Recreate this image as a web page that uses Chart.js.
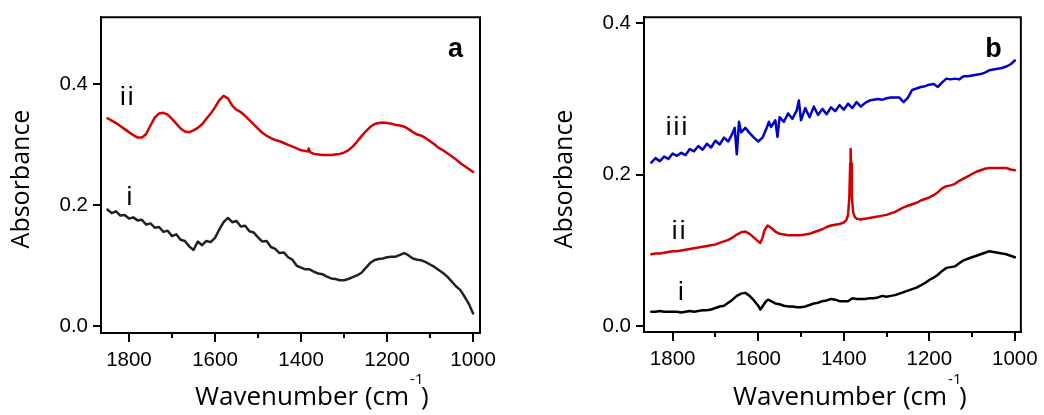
<!DOCTYPE html>
<html>
<head>
<meta charset="utf-8">
<script src="https://cdn.jsdelivr.net/npm/chart.js@4.4.1/dist/chart.umd.min.js"></script>
<style>
  html, body { margin: 0; padding: 0; background: #fff; }
  #wrap { position: relative; width: 1044px; height: 415px; }
  .panel { position: absolute; top: 0; height: 415px; }
  #pa { left: 0; width: 520px; }
  #pb { left: 520px; width: 524px; }
</style>
</head>
<body>
<div id="wrap">
  <div class="panel" id="pa"><canvas id="ca" width="520" height="415"></canvas></div>
  <div class="panel" id="pb"><canvas id="cb" width="524" height="415"></canvas></div>
</div>
<script>
// ---- data ----
const xTicks = [1800, 1600, 1400, 1200, 1000];
const xMinor = [1700, 1500, 1300, 1100];
const yTicks = [0.0, 0.2, 0.4];

// panel a, curve i (black)
const waveA_i = [1850,1840,1830,1820,1810,1800,1790,1780,1770,1760,
  1750,1740,1730,1720,1710,1700,1690,1680,1670,1660,
  1650,1640,1630,1620,1610,1600,1590,1580,1570,1560,
  1550,1540,1530,1520,1510,1500,1490,1480,1470,1460,
  1450,1440,1430,1420,1410,1400,1390,1380,1370,1360,
  1350,1340,1330,1320,1310,1300,1290,1280,1270,1260,
  1250,1240,1230,1220,1210,1200,1190,1180,1170,1160,
  1150,1140,1130,1120,1110,1100,1090,1080,1070,1060,
  1050,1040,1030,1020,1010,1000];
const absA_i = [0.193,0.187,0.190,0.183,0.184,0.178,0.180,0.175,0.176,0.168,
  0.170,0.163,0.164,0.156,0.158,0.149,0.152,0.143,0.141,0.132,
  0.126,0.140,0.134,0.141,0.139,0.146,0.160,0.172,0.179,0.172,
  0.174,0.165,0.166,0.157,0.155,0.147,0.140,0.141,0.131,0.128,
  0.121,0.122,0.114,0.110,0.100,0.097,0.094,0.094,0.090,0.087,
  0.086,0.082,0.079,0.078,0.076,0.076,0.078,0.081,0.084,0.088,
  0.096,0.104,0.109,0.111,0.112,0.114,0.115,0.115,0.118,0.121,
  0.117,0.112,0.110,0.109,0.106,0.102,0.098,0.093,0.088,0.082,
  0.074,0.066,0.060,0.049,0.037,0.021];

// panel a, curve ii (red)
const waveA_ii = [1850,1840,1830,1820,1810,1800,1790,1780,1770,1760,
  1750,1740,1730,1720,1710,1700,1690,1680,1670,1660,
  1650,1640,1630,1620,1610,1600,1590,1580,1570,1560,
  1550,1540,1530,1520,1510,1500,1490,1480,1470,1460,
  1450,1440,1430,1420,1410,1400,1390,1385,1382,1379,
  1370,1360,1350,1340,1330,1320,1310,1300,
  1290,1280,1270,1260,1250,1240,1230,1220,1210,1200,
  1190,1180,1170,1160,1150,1140,1130,1120,1110,1100,
  1090,1080,1070,1060,1050,1040,1030,1020,1010,1000];
const absA_ii = [0.344,0.340,0.336,0.331,0.326,0.321,0.316,0.312,0.312,0.318,
  0.332,0.345,0.352,0.353,0.350,0.343,0.335,0.327,0.322,0.321,
  0.324,0.328,0.334,0.343,0.352,0.362,0.374,0.381,0.377,0.365,
  0.358,0.354,0.348,0.341,0.334,0.327,0.320,0.315,0.311,0.308,
  0.306,0.303,0.300,0.297,0.294,0.291,0.290,0.289,0.294,0.288,
  0.285,0.284,0.283,0.283,0.283,0.284,0.285,0.287,
  0.291,0.297,0.305,0.314,0.322,0.329,0.334,0.336,0.337,0.336,
  0.335,0.333,0.332,0.330,0.326,0.321,0.317,0.315,0.311,0.306,
  0.301,0.295,0.291,0.286,0.281,0.276,0.270,0.265,0.260,0.255];

// panel b, curve i (black)
const waveB_i = [1850,1840,1830,1820,1810,1800,1790,1780,1770,1760,
  1750,1740,1730,1720,1710,1700,1690,1680,1670,1660,
  1650,1640,1630,1620,1610,1600,1595,1590,1583,1577,
  1570,1560,1550,1540,1530,1520,1510,1500,1490,1480,
  1470,1460,1450,1440,1430,1420,1410,1400,1390,1380,
  1370,1360,1350,1340,1330,1320,1310,1300,1290,1280,
  1270,1260,1250,1240,1230,1220,1210,1200,1190,1180,
  1170,1160,1150,1140,1130,1120,1110,1100,1090,1080,
  1070,1060,1050,1040,1030,1020,1010,1000];
const absB_i = [0.019,0.019,0.020,0.019,0.019,0.019,0.019,0.018,0.019,0.020,
  0.019,0.020,0.021,0.021,0.022,0.024,0.026,0.027,0.031,0.035,
  0.040,0.043,0.044,0.040,0.034,0.027,0.022,0.026,0.032,0.035,
  0.033,0.030,0.029,0.027,0.026,0.026,0.025,0.025,0.026,0.028,
  0.030,0.031,0.033,0.034,0.036,0.035,0.033,0.033,0.033,0.037,
  0.036,0.036,0.036,0.037,0.037,0.038,0.040,0.039,0.040,0.041,
  0.043,0.045,0.047,0.049,0.051,0.054,0.057,0.061,0.064,0.068,
  0.073,0.077,0.078,0.079,0.083,0.087,0.089,0.091,0.093,0.095,
  0.097,0.099,0.098,0.097,0.096,0.095,0.093,0.091];

// panel b, curve ii (red)
const waveB_ii = [1850,1840,1830,1820,1810,1800,1790,1780,1770,1760,
  1750,1740,1730,1720,1710,1700,1690,1680,1670,1660,
  1650,1640,1630,1620,1610,1600,1595,1590,1585,1578,
  1570,1560,1550,1540,1530,1520,1510,1500,1490,1480,
  1470,1460,1450,1440,1430,1420,1410,1400,1394,1390,
  1387,1385,1384,1383,1381,1378,1374,1370,1360,1350,
  1340,1330,1320,1310,1300,1290,1280,1270,1260,1250,
  1240,1230,1220,1210,1200,1190,1180,1170,1160,1150,
  1140,1130,1120,1110,1100,1090,1080,1070,1060,1050,
  1040,1030,1020,1010,1000];
const absB_ii = [0.095,0.096,0.096,0.097,0.098,0.099,0.099,0.100,0.101,0.102,
  0.103,0.104,0.105,0.106,0.107,0.108,0.110,0.112,0.114,0.117,
  0.121,0.124,0.125,0.122,0.117,0.112,0.110,0.117,0.127,0.133,
  0.130,0.125,0.122,0.121,0.120,0.120,0.120,0.120,0.121,0.122,
  0.124,0.126,0.128,0.131,0.133,0.134,0.135,0.137,0.140,0.147,
  0.170,0.215,0.234,0.215,0.170,0.150,0.144,0.142,0.141,0.142,
  0.143,0.144,0.145,0.146,0.147,0.149,0.151,0.154,0.157,0.159,
  0.161,0.163,0.166,0.168,0.170,0.173,0.177,0.182,0.185,0.186,
  0.188,0.192,0.195,0.198,0.201,0.204,0.206,0.208,0.209,0.209,
  0.209,0.209,0.209,0.207,0.206];

// panel b, curve iii (blue)
const waveB_iii = [1850,1840,1830,1820,1810,1800,1790,1780,1770,1760,
  1750,1740,1730,1720,1710,1700,1690,1680,1670,1660,
  1655,1650,1645,1640,1630,1620,1610,1600,1590,1580,
  1575,1570,1560,1555,1550,1540,1530,1520,1510,1505,
  1500,1490,1480,1470,1460,1450,1440,1430,1420,1410,
  1400,1390,1380,1370,1360,1350,1340,1330,1320,1310,
  1300,1290,1280,1270,1260,1250,1240,1230,1220,1210,
  1200,1190,1180,1170,1160,1150,1140,1130,1120,1110,
  1100,1090,1080,1070,1060,1050,1040,1030,1020,1010,1000];
const absB_iii = [0.216,0.222,0.218,0.224,0.221,0.228,0.225,0.229,0.226,0.234,
  0.231,0.238,0.233,0.241,0.236,0.245,0.240,0.249,0.244,0.255,
  0.262,0.227,0.270,0.256,0.262,0.255,0.249,0.244,0.249,0.262,
  0.270,0.263,0.272,0.250,0.276,0.270,0.281,0.274,0.285,0.298,
  0.272,0.288,0.276,0.290,0.279,0.287,0.280,0.289,0.284,0.292,
  0.286,0.294,0.288,0.296,0.290,0.295,0.298,0.299,0.300,0.299,
  0.301,0.302,0.302,0.302,0.296,0.302,0.312,0.314,0.316,0.317,
  0.319,0.320,0.316,0.322,0.327,0.326,0.327,0.326,0.330,0.330,
  0.331,0.332,0.333,0.335,0.338,0.339,0.340,0.341,0.343,0.346,0.351];

const RED = '#d20000';
const BLUE = '#0000cc';

const toPoints = (w, a) => w.map((v, i) => ({ x: v, y: a[i] }));

// frame, minor ticks, curve labels and axis titles
const decorations = {
  id: 'decorations',
  afterDraw(chart, args, o) {
    const { ctx, chartArea: a, scales: { x, y } } = chart;
    ctx.save();
    ctx.strokeStyle = '#000';
    ctx.lineWidth = 2;
    ctx.beginPath();
    ctx.moveTo(a.left - 1, a.top);
    ctx.lineTo(a.right, a.top);
    ctx.lineTo(a.right, a.bottom + 1);
    xMinor.forEach(v => {
      const px = Math.round(x.getPixelForValue(v));
      ctx.moveTo(px, a.bottom);
      ctx.lineTo(px, a.bottom + 5);
    });
    ctx.stroke();

    ctx.fillStyle = '#000';
    ctx.textAlign = 'center';
    ctx.textBaseline = 'alphabetic';
    o.labels.forEach(l => {
      ctx.font = l.bold ? 'bold 27px "Liberation Sans"' : '26px "Liberation Sans"';
      ctx.letterSpacing = l.bold ? '0px' : '2px';
      ctx.fillText(l.text, x.getPixelForValue(l.x) + (l.bold ? 0 : 1), y.getPixelForValue(l.y));
    });
    ctx.letterSpacing = '0px';

    // y title
    ctx.font = '25px "Open Sans"';
    ctx.save();
    ctx.translate(o.yTitle[0], o.yTitle[1]);
    ctx.rotate(-Math.PI / 2);
    ctx.textBaseline = 'middle';
    ctx.fillText('Absorbance', 0, 0);
    ctx.restore();

    // x title with superscript
    ctx.textAlign = 'left';
    ctx.font = '26px "Open Sans"';
    const main = 'Wavenumber (cm';
    const w = ctx.measureText(main).width;
    ctx.fillText(main, o.xTitle[0], o.xTitle[1]);
    ctx.fillText(')', o.xTitle[0] + w + 12, o.xTitle[1]);
    ctx.font = '15px "Open Sans"';
    ctx.fillText('-1', o.xTitle[0] + w + 1, o.xTitle[1] - 21);
    ctx.restore();
  }
};

function buildOptions(p) {
  return {
    responsive: false,
    animation: false,
    layout: { padding: p.padding },
    plugins: {
      legend: { display: false },
      tooltip: { enabled: false },
      decorations: p.deco
    },
    scales: {
      x: {
        type: 'linear',
        reverse: true,
        min: p.xMin,
        max: p.xMax,
        afterFit: s => { s.height = p.xHeight; },
        afterBuildTicks: s => { s.ticks = xTicks.map(v => ({ value: v })); },
        grid: { drawOnChartArea: false, tickLength: 9, tickWidth: 2, tickColor: '#000', lineWidth: 2 },
        border: { color: '#000', width: 2 },
        ticks: {
          color: '#000', padding: 6, maxRotation: 0, autoSkip: false,
          font: { family: 'Liberation Sans', size: 20.5 },
          callback: v => String(v)
        }
      },
      y: {
        type: 'linear',
        min: p.yMin,
        max: p.yMax,
        afterFit: s => { s.width = p.yWidth; },
        afterBuildTicks: s => { s.ticks = yTicks.map(v => ({ value: v })); },
        grid: { drawOnChartArea: false, tickLength: 8, tickWidth: 2, tickColor: '#000', lineWidth: 2 },
        border: { color: '#000', width: 2 },
        ticks: {
          color: '#000', padding: 5,
          font: { family: 'Liberation Sans', size: 20.5 },
          callback: v => v.toFixed(1)
        }
      }
    }
  };
}

const lineStyle = {
  borderWidth: 2.5, pointRadius: 0, tension: 0, fill: false,
  borderJoinStyle: 'round', borderCapStyle: 'round'
};

new Chart(document.getElementById('ca'), {
  type: 'line',
  data: {
    datasets: [
      { ...lineStyle, data: toPoints(waveA_i, absA_i), borderColor: '#222222' },
      { ...lineStyle, data: toPoints(waveA_ii, absA_ii), borderColor: RED }
    ]
  },
  options: buildOptions({
    padding: { left: 0, top: 9, right: 40, bottom: 0 },
    xMin: 984, xMax: 1865, yMin: -0.0113, yMax: 0.511,
    xHeight: 82, yWidth: 101,
    deco: {
      labels: [
        { text: 'ii', x: 1805, y: 0.366 },
        { text: 'i', x: 1799, y: 0.2 },
        { text: 'a', x: 1041, y: 0.445, bold: true }
      ],
      yTitle: [22, 179],
      xTitle: [195, 405]
    }
  }),
  plugins: [decorations]
});

new Chart(document.getElementById('cb'), {
  type: 'line',
  data: {
    datasets: [
      { ...lineStyle, data: toPoints(waveB_i, absB_i), borderColor: '#000000' },
      { ...lineStyle, data: toPoints(waveB_ii, absB_ii), borderColor: RED },
      { ...lineStyle, data: toPoints(waveB_iii, absB_iii), borderColor: BLUE }
    ]
  },
  options: buildOptions({
    padding: { left: 0, top: 10, right: 21, bottom: 0 },
    xMin: 986, xMax: 1867, yMin: -0.0077, yMax: 0.408,
    xHeight: 83, yWidth: 124,
    deco: {
      labels: [
        { text: 'iii', x: 1791, y: 0.253 },
        { text: 'ii', x: 1786, y: 0.115 },
        { text: 'i', x: 1781, y: 0.035 },
        { text: 'b', x: 1050, y: 0.356, bold: true }
      ],
      yTitle: [45, 179],
      xTitle: [213, 405]
    }
  }),
  plugins: [decorations]
});
</script>
</body>
</html>
